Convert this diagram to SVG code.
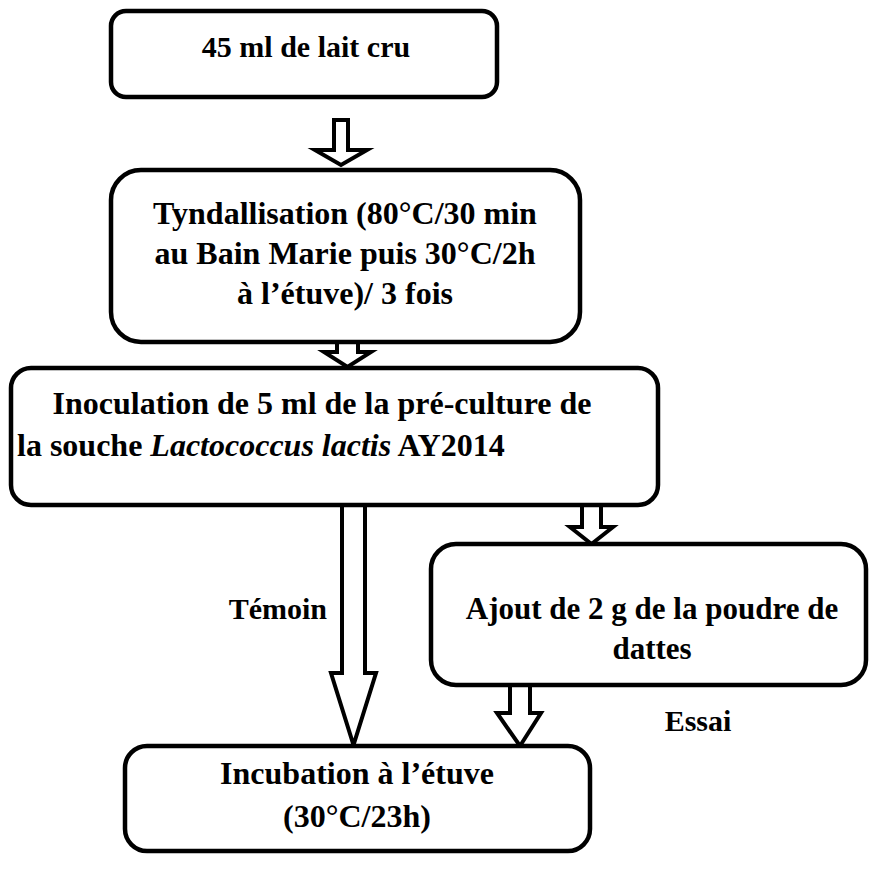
<svg xmlns="http://www.w3.org/2000/svg" width="871" height="873" viewBox="0 0 871 873">
<style>
.box{fill:#fff;stroke:#000;stroke-width:4.5}
.arr{fill:#fff;stroke:#000;stroke-width:4;stroke-linejoin:miter}
text{font-family:"Liberation Serif","Times New Roman",serif;font-weight:bold;font-size:32px;fill:#000}
.c{text-anchor:middle}
</style>
<rect width="871" height="873" fill="#fff"/>
<g id="connectors">
<path class="arr" d="M334,120 H348 V150 H367 L341,165 L315,150 H334 Z"/>
<path class="arr" d="M337,342 H358 V352 H371 L347.5,367 L324,352 H337 Z"/>
<path class="arr" d="M342,505 H365 V673 H376 L353.5,745 L331,673 H342 Z"/>
<path class="arr" d="M582,505 H601 V527 H613 L591.5,544 L570,527 H582 Z"/>
<path class="arr" d="M510,685 H530 V713 H541 L520,746 L497,713 H510 Z"/>
<text x="327" y="619" text-anchor="end" style="font-size:30px">Témoin</text>
<text x="698" y="731" class="c" style="font-size:30px">Essai</text>
</g>
<g id="n1">
<rect class="box" x="111" y="11" width="386" height="86" rx="15"/>
<text x="306" y="57" class="c" style="font-size:30px">45 ml de lait cru</text>
</g>
<g id="n2">
<rect class="box" x="111" y="170" width="469" height="172" rx="30"/>
<text x="345" y="224" class="c">Tyndallisation (80°C/30 min</text>
<text x="345" y="264" class="c">au Bain Marie puis 30°C/2h</text>
<text x="345" y="304" class="c">à l’étuve)/ 3 fois</text>
</g>
<g id="n3">
<rect class="box" x="11" y="368" width="647" height="137" rx="20"/>
<text x="322" y="414" class="c">Inoculation de 5 ml de la pré-culture de</text>
<text x="17" y="456">la souche <tspan font-style="italic">Lactococcus lactis</tspan> AY2014</text>
</g>
<g id="n4">
<rect class="box" x="431" y="544" width="435" height="141" rx="25"/>
<text x="652" y="619" class="c" style="font-size:31px">Ajout de 2 g de la poudre de</text>
<text x="652" y="659" class="c" style="font-size:31px">dattes</text>
</g>
<g id="n5">
<rect class="box" x="125" y="746" width="465" height="105" rx="22"/>
<text x="357" y="784" class="c">Incubation à l’étuve</text>
<text x="357" y="827" class="c">(30°C/23h)</text>
</g>
</svg>
